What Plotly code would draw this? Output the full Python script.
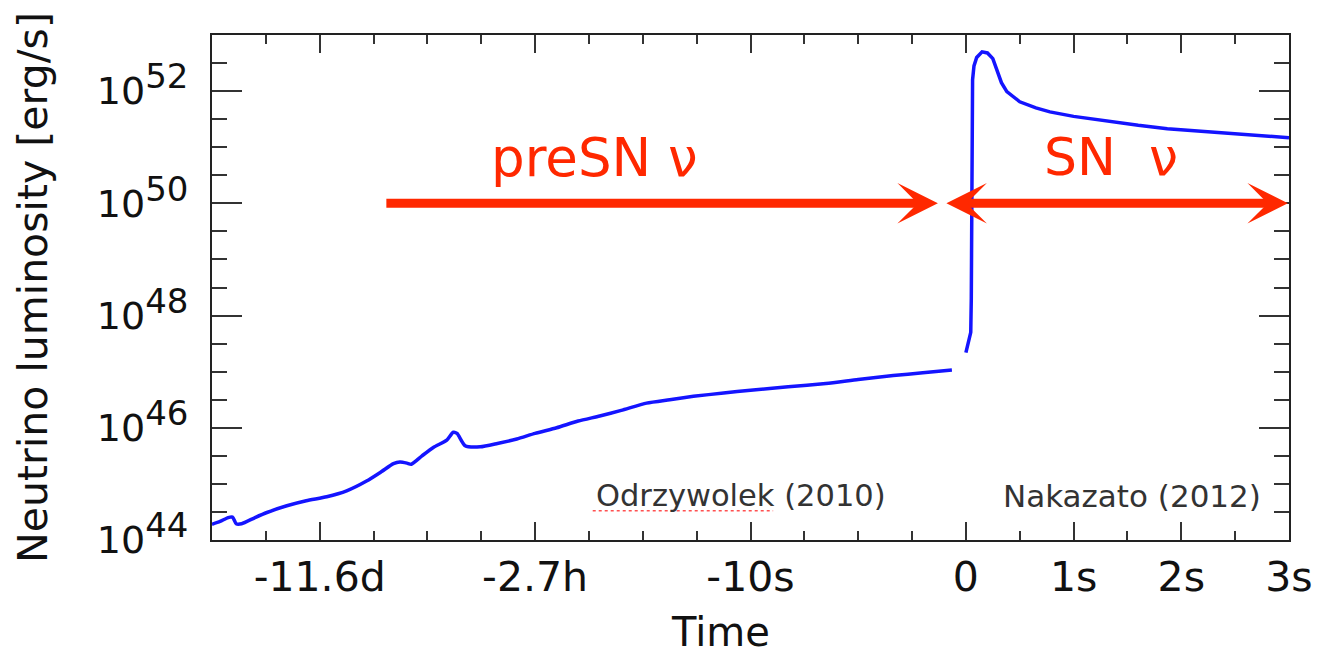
import plotly.graph_objects as go

# ---------------- data ----------------
# position on the compressed time axis (0 .. 14 = core bounce), log10 L [erg/s]
presn_pos = [0.00, 0.15, 0.30, 0.38, 0.45, 0.55, 0.80, 1.02, 1.39, 1.75, 2.13, 2.50,
             2.87, 3.15, 3.37, 3.49, 3.62, 3.70, 3.90, 4.11, 4.36, 4.48, 4.55, 4.70,
             4.98, 5.30, 5.66, 6.00, 6.40, 6.80, 7.20, 7.60, 8.07, 8.50, 8.94, 9.50,
             10.0, 10.7, 11.4, 12.0, 12.65, 13.2, 13.74]
presn_logL = [44.28, 44.33, 44.40, 44.41, 44.29, 44.29, 44.40, 44.49, 44.61, 44.70, 44.77, 44.875,
              45.05, 45.22, 45.36, 45.39, 45.37, 45.35, 45.50, 45.65, 45.78, 45.92, 45.90, 45.68,
              45.66, 45.72, 45.80, 45.90, 46.00, 46.12, 46.21, 46.31, 46.44, 46.50, 46.56, 46.62,
              46.67, 46.73, 46.79, 46.86, 46.93, 46.98, 47.03]

# supernova phase: time after bounce [s], log10 L [erg/s]
sn_t = [0.0, 0.03, 0.045, 0.05, 0.052, 0.055, 0.058, 0.062, 0.075, 0.10, 0.15, 0.20,
        0.25, 0.29, 0.33, 0.38, 0.45, 0.50, 0.65, 0.78, 1.0, 1.25, 1.6, 1.87,
        2.2, 2.49, 2.75, 3.0]
sn_logL = [47.34, 47.55, 47.70, 48.3, 49.5, 51.0, 51.7, 52.2, 52.45, 52.60, 52.70, 52.68,
           52.58, 52.35, 52.15, 51.99, 51.88, 51.81, 51.70, 51.63, 51.55, 51.48, 51.39, 51.33,
           51.28, 51.24, 51.20, 51.17]

bounce_pos = 14      # axis position of t = 0
pos_per_second = 2   # axis units per second after bounce

x_tickvals = [2, 6, 10, 14, 16, 18, 20]
x_ticktext = ["-11.6d", "-2.7h", "-10s", "0", "1s", "2s", "3s"]
y_exponents = [44, 46, 48, 50, 52]

RED = "rgb(255,40,0)"
BLUE = "rgb(20,20,255)"
FONT = "DejaVu Sans"

sn_pos = [bounce_pos + pos_per_second * t for t in sn_t]

fig = go.Figure()
fig.add_trace(go.Scatter(x=presn_pos, y=[10.0 ** v for v in presn_logL], mode="lines",
                         line=dict(color=BLUE, width=3.5, shape="spline", smoothing=0.6),
                         showlegend=False, hoverinfo="skip"))
fig.add_trace(go.Scatter(x=sn_pos, y=[10.0 ** v for v in sn_logL], mode="lines",
                         line=dict(color=BLUE, width=3.5), showlegend=False, hoverinfo="skip"))

# arrows
fig.add_annotation(x=13.48, y=50.0, ax=3.21, ay=50.0, xref="x", yref="y", axref="x", ayref="y",
                   text="", showarrow=True, arrowhead=3, arrowsize=0.75, arrowwidth=9,
                   arrowcolor=RED, arrowside="end", standoff=0)
fig.add_annotation(x=19.98, y=50.0, ax=13.61, ay=50.0, xref="x", yref="y", axref="x", ayref="y",
                   text="", showarrow=True, arrowhead=3, arrowsize=0.75, arrowwidth=9,
                   startarrowhead=3, startarrowsize=0.75,
                   arrowcolor=RED, arrowside="end+start", standoff=0, startstandoff=0)

fig.add_annotation(x=7.11, y=50.82, xref="x", yref="y", text="preSN ν", showarrow=False,
                   font=dict(family=FONT, size=53, color=RED))
fig.add_annotation(x=16.7, y=50.82, xref="x", yref="y", text="SN  ν", showarrow=False,
                   font=dict(family=FONT, size=52, color=RED))

fig.add_annotation(x=9.82, y=44.79, xref="x", yref="y", text="Odrzywolek (2010)", showarrow=False,
                   font=dict(family=FONT, size=30.5, color="#333333"))
fig.add_annotation(x=17.08, y=44.79, xref="x", yref="y", text="Nakazato (2012)", showarrow=False,
                   font=dict(family=FONT, size=31, color="#333333"))
fig.add_shape(type="line", x0=7.07, x1=10.42, y0=0.058, y1=0.058, xref="x", yref="paper",
              line=dict(color="rgb(255,80,80)", width=1.5, dash="dot"))

fig.add_annotation(x=0.4726, y=-0.182, xref="paper", yref="paper", yanchor="middle",
                   text="Time", showarrow=False,
                   font=dict(family=FONT, size=40, color="#111111"))

fig.update_xaxes(range=[0, 20], showline=True, linecolor="#222222", linewidth=2, mirror="ticks",
                 ticks="inside", ticklen=18, tickwidth=1.5, tickcolor="#333333",
                 tickvals=x_tickvals, ticktext=x_ticktext,
                 tickfont=dict(family=FONT, size=41, color="#111111"),
                 ticklabelstandoff=0, automargin=False,
                 minor=dict(ticks="inside", ticklen=9, tickwidth=1.5, tickcolor="#333333", dtick=1),
                 showgrid=False, zeroline=False)
fig.update_yaxes(type="log", range=[44, 53], showline=True, linecolor="#222222", linewidth=2,
                 mirror="ticks", ticks="inside", ticklen=30, tickwidth=1.5, tickcolor="#333333",
                 tickvals=[10.0 ** e for e in y_exponents],
                 ticktext=["10<sup><span style='font-size:34px'>%d</span></sup>" % e for e in y_exponents],
                 tickfont=dict(family=FONT, size=38, color="#111111"),
                 ticklabelstandoff=14, automargin=False,
                 minor=dict(ticks="inside", ticklen=15, tickwidth=1.5, tickcolor="#333333",
                            tickvals=[10.0 ** (44 + 0.5 * k) for k in range(19)]),
                 title=dict(text="Neutrino luminosity [erg/s]",
                            font=dict(family=FONT, size=41, color="#111111"), standoff=36),
                 showgrid=False, zeroline=False)

fig.update_layout(width=1319, height=654, margin=dict(l=212, r=30, t=35, b=114),
                  paper_bgcolor="white", plot_bgcolor="white", showlegend=False)

fig.write_html("out.html")
